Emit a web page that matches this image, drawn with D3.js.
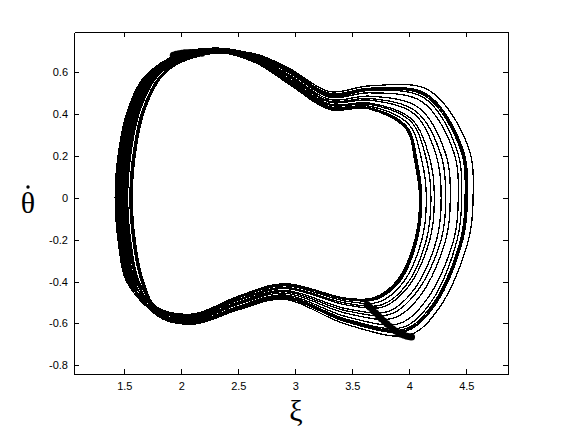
<!DOCTYPE html>
<html>
<head>
<meta charset="utf-8">
<script src="https://cdn.jsdelivr.net/npm/d3@7"></script>
<style>
  body { margin: 0; background: #fff; }
  svg { display: block; }
  .tick text { font-family: "Liberation Sans", Arial, sans-serif; font-size: 11px; fill: #000; }
  .tick line, .domain { stroke: #000; }
</style>
</head>
<body>
<div id="graphic"></div>
<script>
// phase portrait, one closed loop per orbit, points as [xi, thetaDot]
const loops = [
  [[1.50,0],[1.53,0.22],[1.61,0.42],[1.76,0.58],[2.00,0.667],[2.35,0.698],[2.65,0.648],[2.95,0.545],[3.30,0.425],[3.65,0.425],[3.97,0.330],[4.05,0.170],[4.09,0],[4.05,-0.20],[3.90,-0.390],[3.70,-0.475],[3.45,-0.480],[2.90,-0.410],[2.50,-0.470],[2.10,-0.555],[1.78,-0.520],[1.60,-0.40],[1.53,-0.22]],
  [[1.47,0],[1.50,0.22],[1.58,0.42],[1.73,0.58],[2.00,0.675],[2.35,0.703],[2.65,0.650],[2.95,0.548],[3.30,0.427],[3.65,0.427],[3.974,0.334],[4.06,0.171],[4.10,0],[4.06,-0.20],[3.907,-0.393],[3.706,-0.479],[3.45,-0.482],[2.90,-0.411],[2.50,-0.471],[2.10,-0.556],[1.78,-0.521],[1.57,-0.40],[1.50,-0.22]],
  [[1.53,0],[1.56,0.22],[1.64,0.42],[1.79,0.58],[2.00,0.659],[2.35,0.696],[2.65,0.652],[2.95,0.552],[3.30,0.431],[3.65,0.431],[3.98,0.339],[4.07,0.174],[4.11,0],[4.07,-0.20],[3.92,-0.397],[3.715,-0.484],[3.45,-0.486],[2.90,-0.414],[2.50,-0.473],[2.10,-0.557],[1.78,-0.522],[1.63,-0.40],[1.56,-0.22]],
  [[1.44,0],[1.47,0.22],[1.55,0.42],[1.70,0.58],[2.00,0.684],[2.35,0.708],[2.65,0.655],[2.95,0.557],[3.30,0.436],[3.65,0.438],[3.994,0.352],[4.11,0.178],[4.15,0],[4.11,-0.20],[3.944,-0.406],[3.736,-0.497],[3.45,-0.494],[2.90,-0.420],[2.50,-0.478],[2.10,-0.562],[1.78,-0.526],[1.54,-0.40],[1.47,-0.22]],
  [[1.56,0],[1.59,0.22],[1.67,0.42],[1.82,0.58],[2.00,0.652],[2.35,0.694],[2.65,0.657],[2.95,0.562],[3.30,0.443],[3.65,0.447],[4.01,0.367],[4.15,0.184],[4.19,0],[4.15,-0.20],[3.974,-0.416],[3.76,-0.511],[3.45,-0.504],[2.90,-0.428],[2.50,-0.485],[2.10,-0.567],[1.78,-0.530],[1.66,-0.40],[1.59,-0.22]],
  [[1.48,0],[1.51,0.22],[1.59,0.42],[1.74,0.58],[2.00,0.672],[2.35,0.703],[2.65,0.660],[2.95,0.567],[3.30,0.448],[3.65,0.453],[4.02,0.376],[4.18,0.188],[4.22,0],[4.18,-0.20],[3.993,-0.423],[3.775,-0.520],[3.45,-0.512],[2.90,-0.433],[2.50,-0.490],[2.10,-0.570],[1.78,-0.533],[1.58,-0.40],[1.51,-0.22]],
  [[1.43,0],[1.46,0.22],[1.54,0.42],[1.69,0.58],[2.00,0.688],[2.35,0.712],[2.65,0.665],[2.95,0.575],[3.30,0.457],[3.65,0.467],[4.046,0.400],[4.24,0.197],[4.28,0],[4.24,-0.20],[4.041,-0.439],[3.814,-0.543],[3.45,-0.530],[2.90,-0.442],[2.50,-0.498],[2.10,-0.576],[1.78,-0.537],[1.53,-0.40],[1.46,-0.22]],
  [[1.52,0],[1.55,0.22],[1.63,0.42],[1.78,0.58],[2.00,0.662],[2.35,0.699],[2.65,0.667],[2.95,0.580],[3.30,0.462],[3.65,0.475],[4.06,0.413],[4.28,0.202],[4.32,0],[4.28,-0.20],[4.067,-0.449],[3.835,-0.556],[3.45,-0.540],[2.90,-0.448],[2.50,-0.503],[2.10,-0.580],[1.78,-0.541],[1.62,-0.40],[1.55,-0.22]],
  [[1.46,0],[1.49,0.22],[1.57,0.42],[1.72,0.58],[2.00,0.680],[2.35,0.709],[2.65,0.671],[2.95,0.587],[3.30,0.470],[3.65,0.486],[4.08,0.432],[4.32,0.209],[4.36,0],[4.32,-0.20],[4.104,-0.462],[3.865,-0.574],[3.45,-0.552],[2.90,-0.455],[2.50,-0.509],[2.10,-0.585],[1.78,-0.544],[1.56,-0.40],[1.49,-0.22]],
  [[1.55,0],[1.58,0.22],[1.66,0.42],[1.81,0.58],[2.00,0.655],[2.35,0.697],[2.65,0.675],[2.95,0.596],[3.30,0.481],[3.65,0.502],[4.11,0.460],[4.39,0.219],[4.43,0],[4.39,-0.20],[4.159,-0.481],[3.91,-0.601],[3.45,-0.568],[2.90,-0.464],[2.50,-0.518],[2.10,-0.591],[1.78,-0.549],[1.65,-0.40],[1.58,-0.22]],
  [[1.42,0],[1.45,0.22],[1.53,0.42],[1.68,0.58],[2.00,0.692],[2.35,0.715],[2.65,0.680],[2.95,0.605],[3.30,0.492],[3.65,0.519],[4.14,0.487],[4.45,0.230],[4.49,0],[4.45,-0.20],[4.215,-0.501],[3.955,-0.628],[3.45,-0.585],[2.90,-0.474],[2.50,-0.526],[2.10,-0.597],[1.78,-0.553],[1.52,-0.40],[1.45,-0.22]],
  [[1.49,0],[1.52,0.22],[1.60,0.42],[1.75,0.58],[2.00,0.670],[2.35,0.702],[2.65,0.682],[2.95,0.608],[3.30,0.496],[3.65,0.522],[4.146,0.493],[4.46,0.232],[4.50,0],[4.46,-0.20],[4.226,-0.504],[3.964,-0.633],[3.45,-0.590],[2.90,-0.477],[2.50,-0.528],[2.10,-0.599],[1.78,-0.555],[1.59,-0.40],[1.52,-0.22]],
  [[1.45,0],[1.48,0.22],[1.56,0.42],[1.71,0.58],[2.00,0.682],[2.35,0.711],[2.65,0.684],[2.95,0.611],[3.30,0.499],[3.65,0.524],[4.15,0.497],[4.47,0.233],[4.51,0],[4.47,-0.20],[4.233,-0.507],[3.97,-0.637],[3.45,-0.593],[2.90,-0.479],[2.50,-0.530],[2.10,-0.601],[1.78,-0.557],[1.55,-0.40],[1.48,-0.22]],
  [[1.51,0],[1.54,0.22],[1.62,0.42],[1.77,0.58],[2.00,0.665],[2.35,0.700],[2.65,0.688],[2.95,0.618],[3.30,0.508],[3.65,0.535],[4.17,0.515],[4.52,0.240],[4.56,0],[4.52,-0.20],[4.27,-0.520],[4.00,-0.655],[3.45,-0.605],[2.90,-0.485],[2.50,-0.535],[2.10,-0.604],[1.78,-0.560],[1.61,-0.40],[1.54,-0.22]],
  [[1.57,0],[1.60,0.22],[1.68,0.42],[1.83,0.58],[2.00,0.648],[2.35,0.692],[2.65,0.646],[2.95,0.542],[3.30,0.422],[3.65,0.428],[3.976,0.336],[4.06,0.172],[4.10,0],[4.06,-0.20],[3.911,-0.394],[3.709,-0.480],[3.45,-0.484],[2.90,-0.412],[2.50,-0.472],[2.10,-0.556],[1.78,-0.521],[1.67,-0.40],[1.60,-0.22]],
  [[1.44,0],[1.47,0.22],[1.55,0.42],[1.70,0.58],[2.00,0.685],[2.35,0.713],[2.65,0.678],[2.95,0.600],[3.30,0.486],[3.65,0.513],[4.13,0.478],[4.42,0.226],[4.46,0],[4.42,-0.20],[4.196,-0.494],[3.94,-0.619],[3.45,-0.580],[2.90,-0.470],[2.50,-0.522],[2.10,-0.594],[1.78,-0.551],[1.54,-0.40],[1.47,-0.22]]
]

// section points (the heavy marks)
const sectionTop = [[1.93,0.682],[1.955,0.686],[1.98,0.689],[2.005,0.691],[2.03,0.693],[2.055,0.694],[2.08,0.695],[2.105,0.695],[2.13,0.694],[2.155,0.693],[2.18,0.691]]
const sectionBottom = [[3.63,-0.510],[3.655,-0.523],[3.68,-0.537],[3.705,-0.550],[3.73,-0.563],[3.755,-0.577],[3.78,-0.590],[3.805,-0.603],[3.83,-0.615],[3.855,-0.626],[3.88,-0.636],[3.905,-0.645],[3.93,-0.652],[3.955,-0.657],[3.98,-0.661],[4.005,-0.664],[4.02,-0.665]]

const xTicks = [1.5, 2, 2.5, 3, 3.5, 4, 4.5]
const yTicks = [-0.8, -0.6, -0.4, -0.2, 0, 0.2, 0.4, 0.6]
const xDomain = [1.059, 4.866]
const yDomain = [-0.8416, 0.7926]

const W = 561, H = 439
const box = { left: 74, right: 508, top: 32, bottom: 374 }

let svg = d3.select("#graphic").append("svg")
    .attr("width", W)
    .attr("height", H)

let x = d3.scaleLinear().domain(xDomain).range([box.left, box.right])
let y = d3.scaleLinear().domain(yDomain).range([box.bottom, box.top])

let plot = svg.append("g")

let line = d3.line()
    .x(d => x(d[0]))
    .y(d => y(d[1]))
    .curve(d3.curveCatmullRomClosed.alpha(0.5))

plot.selectAll(null)
    .data(loops)
    .enter().append("path")
    .attr("d", line)
    .attr("fill", "none")
    .attr("stroke", "#000")
    .attr("stroke-width", 1.3)
    .attr("shape-rendering", "crispEdges")

plot.selectAll(null)
    .data(sectionTop.concat(sectionBottom))
    .enter().append("circle")
    .attr("cx", d => x(d[0]))
    .attr("cy", d => y(d[1]))
    .attr("r", 3.5)
    .attr("fill", "#000")

// axes, ticks pointing inward like matlab
const fmt = d => String(d)
svg.append("g")
    .attr("transform", "translate(0," + box.bottom + ")")
    .call(d3.axisBottom(x).tickValues(xTicks).tickFormat(fmt).tickSize(-5).tickSizeOuter(0).tickPadding(8))
svg.append("g")
    .attr("transform", "translate(0," + box.top + ")")
    .call(d3.axisTop(x).tickValues(xTicks).tickFormat("").tickSize(-5).tickSizeOuter(0))
svg.append("g")
    .attr("transform", "translate(" + box.left + ",0)")
    .call(d3.axisLeft(y).tickValues(yTicks).tickFormat(fmt).tickSize(-5).tickSizeOuter(0).tickPadding(6))
svg.append("g")
    .attr("transform", "translate(" + box.right + ",0)")
    .call(d3.axisRight(y).tickValues(yTicks).tickFormat("").tickSize(-5).tickSizeOuter(0))

svg.selectAll(".domain").attr("shape-rendering", "crispEdges")
svg.selectAll(".tick line").attr("shape-rendering", "crispEdges")

// axis labels
svg.append("text")
    .attr("x", 296)
    .attr("y", 421)
    .attr("text-anchor", "middle")
    .style("font-family", "'Liberation Serif', 'Times New Roman', serif")
    .style("font-size", "30px")
    .text("ξ")

svg.append("text")
    .attr("x", 28)
    .attr("y", 213)
    .attr("text-anchor", "middle")
    .style("font-family", "'Liberation Serif', 'Times New Roman', serif")
    .style("font-size", "30px")
    .text("θ")
// time-derivative dot over theta
svg.append("circle")
    .attr("cx", 28)
    .attr("cy", 187)
    .attr("r", 1.7)
    .attr("fill", "#000")
</script>
</body>
</html>
